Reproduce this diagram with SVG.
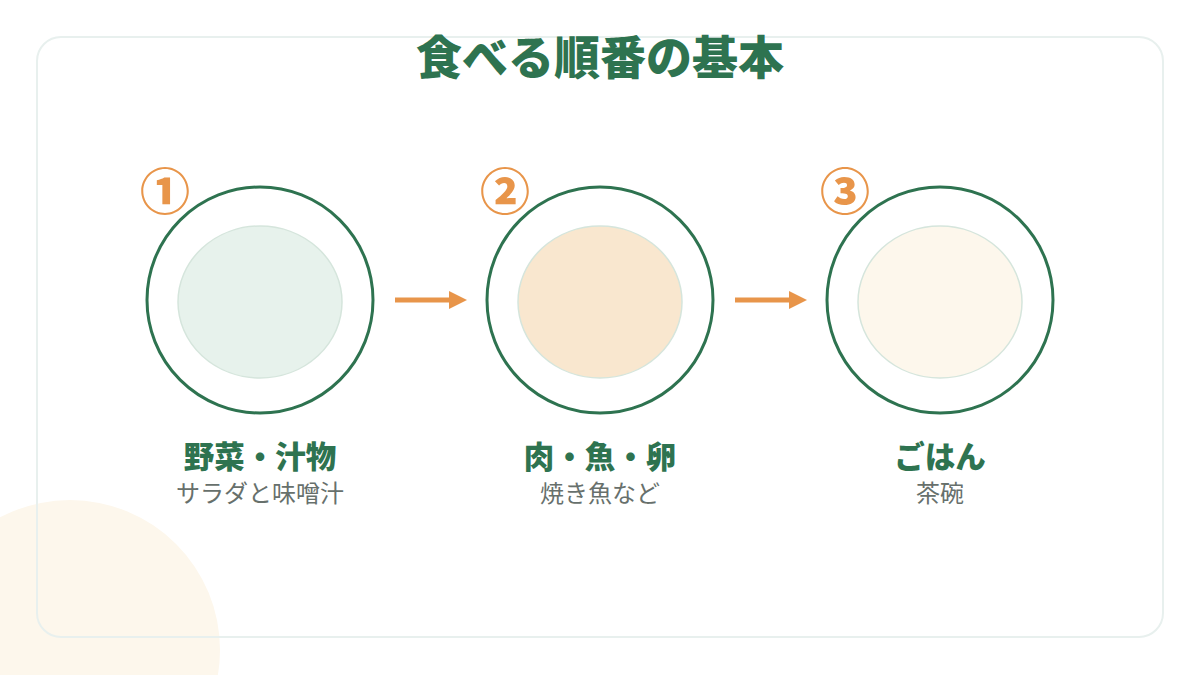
<svg xmlns="http://www.w3.org/2000/svg" width="1200" height="675" viewBox="0 0 1200 675">
<defs>
<style>
.jp{font-family:"Noto Sans CJK JP","Noto Sans CJK SC",sans-serif;}
.title{font-size:46px;font-weight:900;fill:#2e7350;}
.plate{fill:#ffffff;stroke:#2e7350;stroke-width:3;}
.inner{stroke:#d5e5dc;stroke-width:1.5;}
.num{font-size:50px;font-weight:900;fill:#e8954a;}
.lbl{font-size:30.5px;font-weight:900;fill:#2e7350;}
.sub{font-size:24px;fill:#67706c;}
.conn{stroke:#e8954a;stroke-width:5;fill:none;}
</style>
<marker id="ah" viewBox="0 0 10 10" refX="0" refY="5" markerWidth="3.6" markerHeight="4" orient="auto" markerUnits="strokeWidth">
<path d="M0,0 L10,5 L0,10 Z" fill="#e8954a"/>
</marker>
</defs>
<rect width="1200" height="675" fill="#ffffff"/>
<circle cx="70" cy="650" r="150" fill="#fdf7ec"/>
<rect x="37" y="37" width="1126" height="600" rx="24" fill="none" stroke="#e8f0ee" stroke-width="2"/>
<text class="jp title" x="600" y="74" text-anchor="middle">食べる順番の基本</text>
<g id="connectors">
<line class="conn" x1="395" y1="300" x2="449" y2="300" marker-end="url(#ah)"/>
<line class="conn" x1="735" y1="300" x2="789" y2="300" marker-end="url(#ah)"/>
</g>
<g id="step1">
<circle class="plate" cx="260" cy="300" r="113"/>
<ellipse class="inner" cx="260" cy="302" rx="82" ry="76" fill="#e7f2ec"/>
<text class="jp num" x="165" y="210" text-anchor="middle">①</text>
<text class="jp lbl" x="260" y="468" text-anchor="middle">野菜・汁物</text>
<text class="jp sub" x="260" y="502" text-anchor="middle">サラダと味噌汁</text>
</g>
<g id="step2">
<circle class="plate" cx="600" cy="300" r="113"/>
<ellipse class="inner" cx="600" cy="302" rx="82" ry="76" fill="#f9e7cf"/>
<text class="jp num" x="505" y="210" text-anchor="middle">②</text>
<text class="jp lbl" x="600" y="468" text-anchor="middle">肉・魚・卵</text>
<text class="jp sub" x="600" y="502" text-anchor="middle">焼き魚など</text>
</g>
<g id="step3">
<circle class="plate" cx="940" cy="300" r="113"/>
<ellipse class="inner" cx="940" cy="302" rx="82" ry="76" fill="#fdf7ec"/>
<text class="jp num" x="845" y="210" text-anchor="middle">③</text>
<text class="jp lbl" x="940" y="468" text-anchor="middle">ごはん</text>
<text class="jp sub" x="940" y="502" text-anchor="middle">茶碗</text>
</g>
</svg>
